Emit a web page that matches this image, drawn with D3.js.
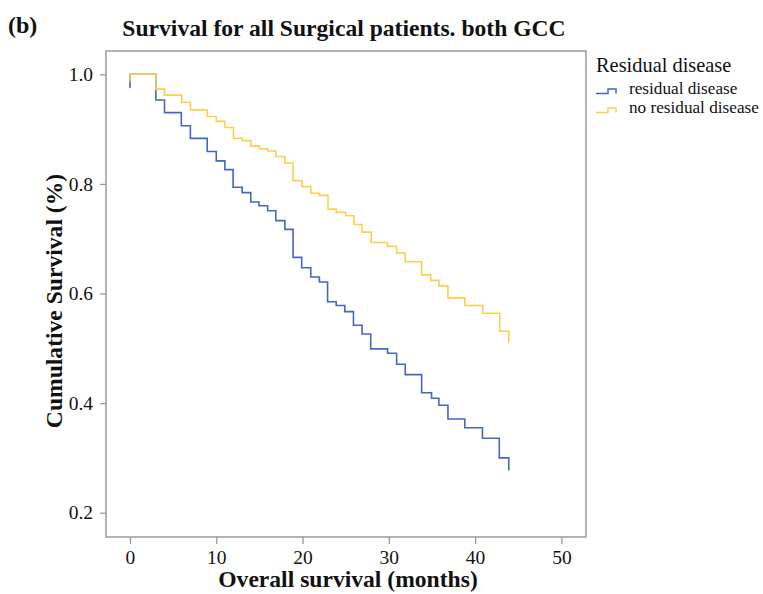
<!DOCTYPE html>
<html>
<head>
<meta charset="utf-8">
<script src="https://cdn.jsdelivr.net/npm/d3@7"></script>
<style>
  body { margin: 0; background: #fff; }
  svg text { font-family: "Liberation Serif", "Times New Roman", serif; fill: #111; }
</style>
</head>
<body>
<svg id="chart" width="763" height="594"></svg>
<script>
// months at which each step happens, and survival after the step
var residualTimes = [0, 0, 3.0, 4.0, 5.95, 7.0, 8.95, 10.0, 11.0, 11.95, 13.0, 14.0, 14.95, 15.95, 16.9, 17.95,
                     18.9, 19.9, 20.95, 21.95, 22.9, 23.9, 24.9, 25.9, 26.9, 27.9, 29.85, 30.9, 31.9,
                     33.8, 34.95, 35.8, 36.85, 38.8, 40.85, 42.8, 43.9]
var residualSurv  = [0.975, 1.0, 0.953, 0.930, 0.906, 0.883, 0.859, 0.842, 0.826, 0.794, 0.784, 0.767, 0.760, 0.751, 0.733, 0.717,
                     0.666, 0.647, 0.630, 0.621, 0.585, 0.578, 0.567, 0.542, 0.526, 0.499, 0.491, 0.471, 0.452,
                     0.419, 0.409, 0.396, 0.371, 0.355, 0.336, 0.300, 0.277]

var noResidualTimes = [0, 0, 3.0, 4.0, 6.0, 7.0, 8.95, 10.0, 11.0, 12.0, 13.0, 14.0, 15.0, 15.95, 16.9, 17.95,
                       18.9, 19.95, 20.95, 21.95, 22.95, 23.9, 25.0, 25.95, 26.9, 27.95, 29.85, 30.9, 31.9,
                       33.8, 34.85, 35.8, 36.85, 38.8, 40.9, 42.85, 43.9]
var noResidualSurv  = [0.987, 1.0, 0.973, 0.962, 0.949, 0.935, 0.923, 0.914, 0.903, 0.883, 0.879, 0.869, 0.864, 0.860, 0.850, 0.838,
                       0.806, 0.795, 0.783, 0.779, 0.754, 0.748, 0.742, 0.726, 0.712, 0.693, 0.686, 0.674, 0.658,
                       0.634, 0.624, 0.614, 0.592, 0.578, 0.564, 0.531, 0.510]

var xTicks = [0, 10, 20, 30, 40, 50]
var yTicks = [0.2, 0.4, 0.6, 0.8, 1.0]
var groupNames = ["residual disease", "no residual disease"]
var groupColors = ["#4766bd", "#fdcf4e"]

var dimensions = {
    width: 763,
    height: 594,
    margin: { top: 51, bottom: 57, left: 106, right: 177 }
}

var svg = d3.select("#chart")

var xScale = d3.scaleLinear()
               .domain([-2.78, 52.85])
               .range([dimensions.margin.left, dimensions.width - dimensions.margin.right])

var yScale = d3.scaleLinear()
               .domain([0.1557, 1.0425])
               .range([dimensions.height - dimensions.margin.bottom, dimensions.margin.top])

// plot frame
svg.append("rect")
   .attr("x", dimensions.margin.left)
   .attr("y", dimensions.margin.top)
   .attr("width", dimensions.width - dimensions.margin.left - dimensions.margin.right)
   .attr("height", dimensions.height - dimensions.margin.top - dimensions.margin.bottom)
   .attr("fill", "none")
   .attr("stroke", "#9a9a9a")
   .attr("stroke-width", 1.5)

var xAxisGen = d3.axisBottom(xScale).tickValues(xTicks).tickSize(7).tickSizeOuter(0).tickPadding(6)
var xAxis = svg.append("g")
               .attr("transform", `translate(0,${dimensions.height - dimensions.margin.bottom})`)
               .call(xAxisGen)

var yAxisGen = d3.axisLeft(yScale).tickValues(yTicks).tickFormat(d3.format(".1f")).tickSize(6).tickSizeOuter(0).tickPadding(7)
var yAxis = svg.append("g")
               .attr("transform", `translate(${dimensions.margin.left},0)`)
               .call(yAxisGen)

xAxis.attr("font-family", null).attr("font-size", null)
yAxis.attr("font-family", null).attr("font-size", null)
svg.selectAll(".domain").remove()
svg.selectAll(".tick line").attr("stroke", "#9a9a9a").attr("stroke-width", 1.3)
svg.selectAll(".tick text").style("font-size", "19.5px")

// step curves
var line = d3.line()
             .x(d => xScale(d[0]))
             .y(d => yScale(d[1]))
             .curve(d3.curveStepAfter)

var curves = [
    d3.zip(residualTimes, residualSurv),
    d3.zip(noResidualTimes, noResidualSurv)
]

svg.append("g")
   .selectAll("path")
   .data(curves)
   .enter()
   .append("path")
   .attr("d", d => line(d))
   .attr("fill", "none")
   .attr("stroke", (d, i) => groupColors[i])
   .attr("stroke-width", 1.6)

// titles
svg.append("text")
   .attr("x", 8)
   .attr("y", 33)
   .style("font-weight", "bold")
   .style("font-size", "24px")
   .text("(b)")

svg.append("text")
   .attr("x", 344)
   .attr("y", 36)
   .attr("text-anchor", "middle")
   .style("font-weight", "bold")
   .style("font-size", "23.6px")
   .text("Survival for all Surgical patients. both GCC")

svg.append("text")
   .attr("x", 348)
   .attr("y", 587)
   .attr("text-anchor", "middle")
   .style("font-weight", "bold")
   .style("font-size", "23.6px")
   .text("Overall survival (months)")

svg.append("text")
   .attr("transform", "translate(62,301) rotate(-90)")
   .attr("text-anchor", "middle")
   .style("font-weight", "bold")
   .style("font-size", "23.6px")
   .text("Cumulative Survival (%)")

// legend
var legend = svg.append("g").attr("transform", "translate(596,0)")

legend.append("text")
      .attr("x", 0)
      .attr("y", 72)
      .style("font-size", "20.4px")
      .text("Residual disease")

var swatch = legend.selectAll("g.item")
                   .data(groupNames)
                   .enter()
                   .append("g")
                   .attr("class", "item")
                   .attr("transform", (d, i) => `translate(0,${93.5 + i * 19})`)

swatch.append("path")
      .attr("d", "M0,0 H12 V-4.5 H20 V0")
      .attr("fill", "none")
      .attr("stroke", (d, i) => groupColors[i])
      .attr("stroke-width", 1.5)

swatch.append("text")
      .attr("x", 33)
      .attr("y", 0)
      .style("font-size", "17.2px")
      .text(d => d)
</script>
</body>
</html>
